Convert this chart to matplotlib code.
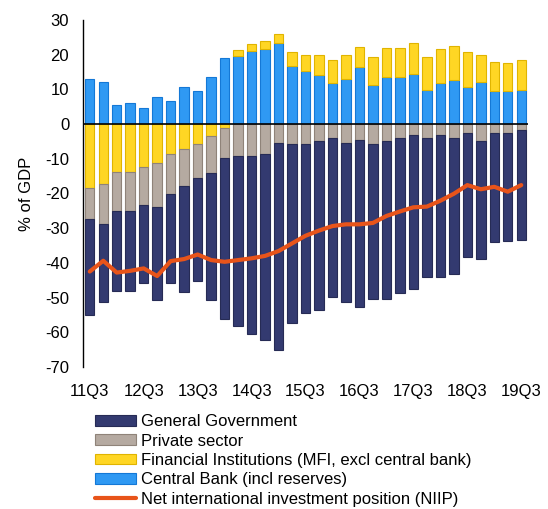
import numpy as np
import matplotlib

matplotlib.use("Agg")
import matplotlib.pyplot as plt

plt.rcParams["font.family"] = ["Liberation Sans", "DejaVu Sans"]
plt.rcParams["axes.unicode_minus"] = False

QUARTERS = [f"{y}Q{q}" for y, q in
            [(11, 3), (11, 4)] + [(y, q) for y in range(12, 19) for q in (1, 2, 3, 4)]
            + [(19, 1), (19, 2), (19, 3)]]
TICK_LABELS = ["11Q3", "12Q3", "13Q3", "14Q3", "15Q3", "16Q3", "17Q3", "18Q3", "19Q3"]

central_bank = [12.9, 12.0, 5.6, 6.0, 4.7, 7.8, 6.5, 10.7, 9.4, 13.4, 18.9,
                19.6, 21.1, 21.6, 23.3, 16.8, 15.3, 14.0, 11.7, 13.0, 16.4, 11.2,
                13.5, 13.5, 14.5, 9.9, 11.7, 12.7, 10.8, 12.2, 9.5, 9.5, 9.9]
financial = [-18.3, -17.4, -13.7, -13.7, -12.4, -11.1, -8.6, -7.3, -5.9, -3.5, -1.2,
             1.6, 2.0, 2.4, 2.5, 4.0, 4.6, 5.8, 6.7, 6.8, 5.7, 8.1,
             8.5, 8.5, 8.8, 9.5, 9.9, 9.9, 10.0, 7.6, 8.4, 8.0, 8.5]
private = [-9.2, -11.4, -11.5, -11.5, -10.9, -12.7, -11.5, -10.6, -9.7, -10.6, -8.7,
           -9.1, -9.1, -8.6, -5.4, -5.9, -5.9, -5.0, -4.1, -5.5, -4.5, -5.9,
           -5.0, -4.1, -3.2, -4.1, -3.2, -4.1, -2.6, -5.0, -2.6, -2.6, -1.7]
government = [-27.6, -22.5, -22.8, -22.8, -22.5, -27.0, -25.6, -30.6, -29.7, -36.7, -46.3,
              -49.1, -51.5, -53.6, -59.7, -51.3, -48.5, -48.6, -45.8, -45.8, -48.2, -44.5,
              -45.4, -44.5, -44.4, -39.9, -40.8, -39.0, -35.7, -33.9, -31.5, -31.0, -31.7]
niip = [-42.5, -39.4, -42.8, -42.3, -41.6, -43.8, -39.5, -38.9, -37.6, -39.2, -39.7,
        -39.2, -38.7, -38.0, -36.6, -34.4, -32.2, -30.7, -29.4, -28.9, -28.9, -28.5,
        -26.5, -25.2, -24.0, -23.8, -22.1, -20.1, -17.6, -18.8, -18.1, -19.5, -17.6]

SERIES = [
    ("Central Bank (incl reserves)", central_bank, "#2f99f3", "#1478d6"),
    ("Financial Institutions (MFI, excl central bank)", financial, "#ffd624", "#e0b400"),
    ("Private sector", private, "#b5aaa1", "#8f8379"),
    ("General Government", government, "#333a70", "#262b55"),
]
FONT_SIZE = 12

fig = plt.figure(figsize=(5.48, 5.09), dpi=100)
ax = fig.add_axes([0.1515, 0.279, 0.812, 0.682])

x = np.arange(len(QUARTERS))
pos_bottom = np.zeros(len(x))
neg_bottom = np.zeros(len(x))
handles = {}
for label, values, color, edge in SERIES:
    v = np.array(values)
    bottom = np.where(v >= 0, pos_bottom, neg_bottom)
    bars = ax.bar(x, v, width=0.7, bottom=bottom, color=color, edgecolor=edge,
                  linewidth=0.8, label=label, zorder=2)
    handles[label] = bars
    pos_bottom += np.where(v >= 0, v, 0)
    neg_bottom += np.where(v < 0, v, 0)

line, = ax.plot(x, niip, color="#e8541a", linewidth=3, zorder=3,
                solid_capstyle="round",
                label="Net international investment position (NIIP)")

ax.axhline(0, color="black", linewidth=1.2, zorder=4)
ax.set_xlim(-0.5, len(x) - 0.5)
ax.set_ylim(-70, 30)
ax.set_yticks(range(-70, 31, 10))
ax.set_xticks(x[::4])
ax.set_xticklabels(TICK_LABELS)
ax.tick_params(axis="x", length=0, pad=12, labelsize=FONT_SIZE)
ax.tick_params(axis="y", length=0, pad=10, labelsize=FONT_SIZE)
for side in ("top", "right", "bottom"):
    ax.spines[side].set_visible(False)
ax.spines["left"].set_linewidth(1.0)
ax.set_ylabel("% of GDP", fontsize=FONT_SIZE, labelpad=8)

order = ["General Government", "Private sector",
         "Financial Institutions (MFI, excl central bank)",
         "Central Bank (incl reserves)"]
leg_handles = [handles[k] for k in order] + [line]
leg_labels = order + [line.get_label()]
fig.legend(leg_handles, leg_labels, loc="upper left", bbox_to_anchor=(0.173, 0.186),
           frameon=False, fontsize=FONT_SIZE, handlelength=2.5, handleheight=0.6,
           handletextpad=0.3, labelspacing=0.26, borderaxespad=0, borderpad=0)

fig.savefig("out.png", dpi=100)
